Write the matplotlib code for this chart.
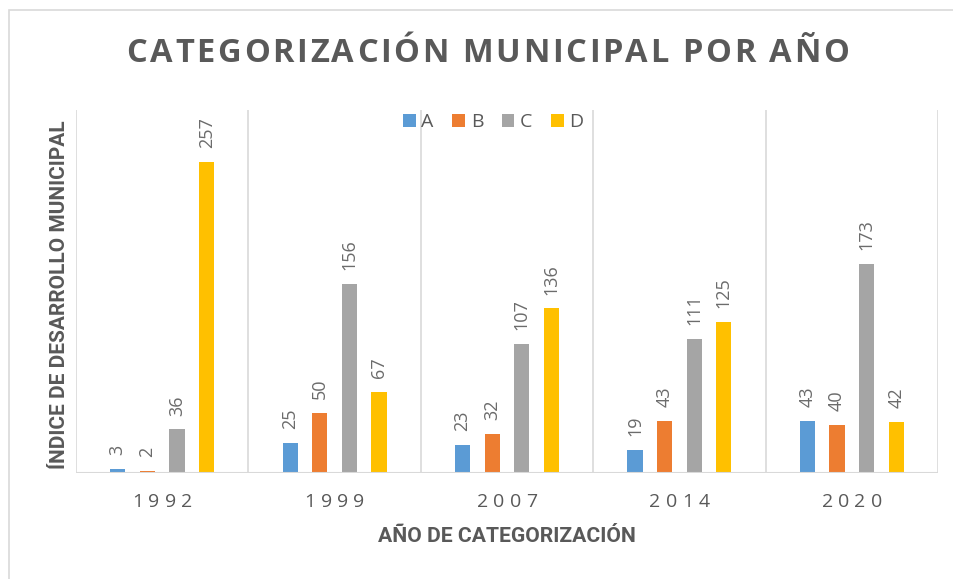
import matplotlib
matplotlib.use("Agg")
import matplotlib.pyplot as plt
from matplotlib.patches import Rectangle
import numpy as np

years = ["1992", "1999", "2007", "2014", "2020"]
series_names = ["A", "B", "C", "D"]
A = [3, 25, 23, 19, 43]
B = [2, 50, 32, 43, 40]
C = [36, 156, 107, 111, 173]
D = [257, 67, 136, 125, 42]
colors = ["#5B9BD5", "#ED7D31", "#A5A5A5", "#FFC000"]

title = "CATEGORIZACIÓN MUNICIPAL POR AÑO"
xlabel = "AÑO DE CATEGORIZACIÓN"
ylabel = "ÍNDICE DE DESARROLLO MUNICIPAL"

plt.rcParams['font.family'] = ['Open Sans', 'DejaVu Sans']

W, H = 954, 579
fig = plt.figure(figsize=(W/100, H/100), dpi=100)
fig.patch.set_facecolor("white")
renderer = fig.canvas.get_renderer()


def advance(c, **kw):
    t1 = fig.text(0, 0, "|" + c + "|", **kw)
    t2 = fig.text(0, 0, "||", **kw)
    w = t1.get_window_extent(renderer).width - t2.get_window_extent(renderer).width
    t1.remove(); t2.remove()
    return w


def tracked_text(xc, yc, s, total_width, **kw):
    """Draw string s centred at (xc, yc) in pixels, letter-spaced to total_width px."""
    advs = [advance(c, **kw) for c in s]
    last = fig.text(0, 0, s[-1], **kw)
    lw = last.get_window_extent(renderer).width
    last.remove()
    natural = sum(advs[:-1]) + lw
    track = (total_width - natural) / (len(s) - 1)
    x = xc - total_width / 2
    for c, a in zip(s, advs):
        fig.text(x / W, 1 - yc / H, c, ha="left", va="center", **kw)
        x += a + track


def fitted_text(xc, yc, s, length, fs0, rotation=0, **kw):
    t = fig.text(xc / W, 1 - yc / H, s, ha="center", va="center", rotation=rotation,
                 fontsize=fs0, **kw)
    bb = t.get_window_extent(renderer)
    cur = bb.height if rotation == 90 else bb.width
    t.set_fontsize(fs0 * length / cur)
    return t


# outer border
fig.add_artist(Rectangle((9/W, -0.1), 1.2, 1.1 - 10/H, transform=fig.transFigure,
                         fill=False, edgecolor="#d9d9d9", linewidth=1.2))

ax = fig.add_axes([76/W, 1 - 473/H, (938-76)/W, (473-110)/H])
x = np.arange(len(years))
data = [A, B, C, D]
bw = 0.088
step = 0.172
for i, (vals, name, col) in enumerate(zip(data, series_names, colors)):
    xs = x + (i - 1.5) * step
    ax.bar(xs, vals, width=bw, color=col, label=name, zorder=3)
    for xx, v in zip(xs, vals):
        ax.annotate(str(v), (xx, v), xytext=(0, 10), textcoords="offset points",
                    rotation=90, ha="center", va="bottom", fontsize=13,
                    color="#6b6b6b")

ax.set_xlim(-0.5, len(years) - 0.5)
ax.set_ylim(0, 300)
for b in np.arange(-0.5, len(years), 1.0):
    ax.axvline(b, color="#d9d9d9", linewidth=1.2, zorder=1)
ax.axhline(0, color="#d9d9d9", linewidth=1.5, zorder=4)
for s in ax.spines.values():
    s.set_visible(False)
ax.set_yticks([])
ax.set_xticks(x)
ax.set_xticklabels([])
ax.tick_params(axis="x", length=0)

# category labels (letter-spaced)
for xi, yr in zip(x, years):
    px = ax.transData.transform((xi, 0))[0]
    tracked_text(px, 502, yr, 60, fontsize=14, color="#595959")

lab_family = ['Roboto', 'DejaVu Sans']
fitted_text(507, 537, xlabel, 260, 14, fontweight="bold", color="#595959", family=lab_family)
fitted_text(60, 295, ylabel, 350, 14, rotation=90, fontweight="bold", color="#595959",
            family=lab_family)

tracked_text(488, 53, title, 723, fontsize=23.5, fontweight="bold", color="#595959")

leg = ax.legend(loc="upper center", bbox_to_anchor=(0.484, 1.04), ncol=4, frameon=False,
                fontsize=14, handlelength=0.65, handleheight=0.65, handletextpad=0.3,
                columnspacing=0.95, labelcolor="#595959")

fig.savefig("out.png", dpi=100)
